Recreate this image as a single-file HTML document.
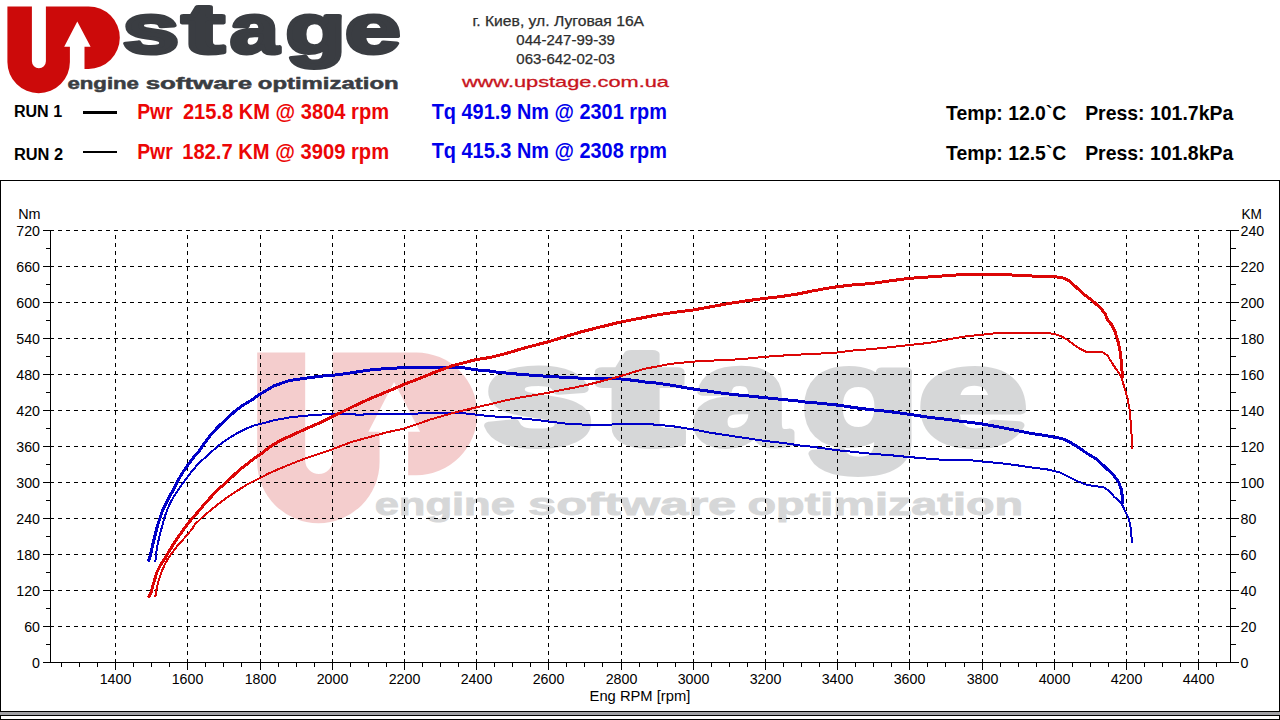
<!DOCTYPE html>
<html lang="ru"><head><meta charset="utf-8"><title>UPstage dyno chart</title>
<style>
html,body{margin:0;padding:0;background:#fff;}
body{width:1280px;height:720px;overflow:hidden;}
svg{display:block;}
text{font-family:"Liberation Sans",sans-serif;}
.lg{font-weight:bold;}
.b{font-weight:bold;}
.ax{font-size:15.3px;fill:#000;}
</style></head><body>
<svg width="1280" height="720" viewBox="0 0 1280 720">
<rect x="0" y="0" width="1280" height="720" fill="#fff"/>
<g id="logo">
<path fill="#cc0a0a" d="M7.4,6.4 H31.9 V61.3 A7,7 0 0 0 45.9,61.3 V6.4 H88.55 A31.25,31.25 0 0 1 88.55,68.9 H84.5 V46.7 H90.6 L77.3,21.5 L64.2,46.7 H69.9 V62 A31.25,31.25 0 0 1 7.4,62 Z"/>
<text class="lg" y="52.9" font-size="69.8" fill="#3a3d42" stroke="#3a3d42" stroke-width="4" stroke-linejoin="round"><tspan x="122.60" textLength="56.66" lengthAdjust="spacingAndGlyphs">s</tspan><tspan x="182.00" textLength="42.33" lengthAdjust="spacingAndGlyphs">t</tspan><tspan x="230.00" textLength="48.77" lengthAdjust="spacingAndGlyphs">a</tspan><tspan x="285.50" textLength="60.13" lengthAdjust="spacingAndGlyphs">g</tspan><tspan x="345.00" textLength="55.62" lengthAdjust="spacingAndGlyphs">e</tspan></text>
<text class="lg" y="89.2" font-size="16.4" fill="#3a3d42" stroke="#3a3d42" stroke-width="0.5"><tspan x="67.4" textLength="71.6" lengthAdjust="spacingAndGlyphs">engine</tspan> <tspan x="145.7" textLength="106.4" lengthAdjust="spacingAndGlyphs">software</tspan> <tspan x="257.8" textLength="140.8" lengthAdjust="spacingAndGlyphs">optimization</tspan></text>
</g>
<g font-size="14.2" fill="#2e2e2e" stroke="#2e2e2e" stroke-width="0.25">
<text x="472.4" y="26.4" textLength="171.7" lengthAdjust="spacingAndGlyphs">г. Киев, ул. Луговая 16А</text>
<text x="516.35" y="45" textLength="98.5" lengthAdjust="spacingAndGlyphs">044-247-99-39</text>
<text x="516.35" y="64.2" textLength="98.5" lengthAdjust="spacingAndGlyphs">063-642-02-03</text>
</g>
<text x="461.9" y="86.6" font-size="15" fill="#c8141c" stroke="#c8141c" stroke-width="0.3" textLength="207.1" lengthAdjust="spacingAndGlyphs">www.upstage.com.ua</text>
<g class="b" font-size="16" fill="#000">
<text x="13.9" y="117" textLength="48.2" lengthAdjust="spacingAndGlyphs">RUN 1</text>
<text x="13.9" y="159.6" textLength="49.2" lengthAdjust="spacingAndGlyphs">RUN 2</text>
</g>
<rect x="83" y="111" width="34" height="3" fill="#000"/>
<rect x="83" y="151" width="34" height="2" fill="#000"/>
<g class="b" font-size="21.6" fill="#ec0606">
<text y="118.6" xml:space="preserve"><tspan x="137.2" textLength="35.55" lengthAdjust="spacingAndGlyphs">Pwr</tspan>  <tspan x="182.9" textLength="206.2" lengthAdjust="spacingAndGlyphs">215.8 KM @ 3804 rpm</tspan></text>
<text y="158.5" xml:space="preserve"><tspan x="137.2" textLength="35.55" lengthAdjust="spacingAndGlyphs">Pwr</tspan>  <tspan x="182.2" textLength="206.9" lengthAdjust="spacingAndGlyphs">182.7 KM @ 3909 rpm</tspan></text>
</g>
<g class="b" font-size="21.6" fill="#0000ec">
<text x="431.7" y="118.6" textLength="235.2" lengthAdjust="spacingAndGlyphs">Tq 491.9 Nm @ 2301 rpm</text>
<text x="431.7" y="158.4" textLength="235.2" lengthAdjust="spacingAndGlyphs">Tq 415.3 Nm @ 2308 rpm</text>
</g>
<g class="b" font-size="20.2" fill="#000">
<text y="119.5" xml:space="preserve"><tspan x="946.05" textLength="120.3" lengthAdjust="spacingAndGlyphs">Temp: 12.0`C</tspan>   <tspan x="1085.15" textLength="148.1" lengthAdjust="spacingAndGlyphs">Press: 101.7kPa</tspan></text>
<text y="159.5" xml:space="preserve"><tspan x="946.05" textLength="120.3" lengthAdjust="spacingAndGlyphs">Temp: 12.5`C</tspan>   <tspan x="1085.15" textLength="148.1" lengthAdjust="spacingAndGlyphs">Press: 101.8kPa</tspan></text>
</g>
<rect x="0.5" y="180.5" width="1279" height="531" fill="#fff" stroke="#000" stroke-width="1"/>
<g opacity="0.2" transform="translate(242.71,339.82) scale(1.958,1.966)">
<g id="wm">
<path fill="#cc0a0a" d="M7.4,6.4 H31.9 V61.3 A7,7 0 0 0 45.9,61.3 V6.4 H88.55 A31.25,31.25 0 0 1 88.55,68.9 H84.5 V46.7 H90.6 L77.3,21.5 L64.2,46.7 H69.9 V62 A31.25,31.25 0 0 1 7.4,62 Z"/>
<text class="lg" y="52.9" font-size="69.8" fill="#3a3d42" stroke="#3a3d42" stroke-width="4" stroke-linejoin="round"><tspan x="122.60" textLength="56.66" lengthAdjust="spacingAndGlyphs">s</tspan><tspan x="182.00" textLength="42.33" lengthAdjust="spacingAndGlyphs">t</tspan><tspan x="230.00" textLength="48.77" lengthAdjust="spacingAndGlyphs">a</tspan><tspan x="285.50" textLength="60.13" lengthAdjust="spacingAndGlyphs">g</tspan><tspan x="345.00" textLength="55.62" lengthAdjust="spacingAndGlyphs">e</tspan></text>
<text class="lg" y="89.2" font-size="16.4" fill="#3a3d42" stroke="#3a3d42" stroke-width="0.5"><tspan x="67.4" textLength="71.6" lengthAdjust="spacingAndGlyphs">engine</tspan> <tspan x="145.7" textLength="106.4" lengthAdjust="spacingAndGlyphs">software</tspan> <tspan x="257.8" textLength="140.8" lengthAdjust="spacingAndGlyphs">optimization</tspan></text>
</g>
</g>
<g stroke="#000" stroke-width="1" shape-rendering="crispEdges" fill="none">
<g stroke-dasharray="4 4">
<line x1="50" y1="230.5" x2="1230" y2="230.5"/>
<line x1="50" y1="266.5" x2="1230" y2="266.5"/>
<line x1="50" y1="302.5" x2="1230" y2="302.5"/>
<line x1="50" y1="338.5" x2="1230" y2="338.5"/>
<line x1="50" y1="374.5" x2="1230" y2="374.5"/>
<line x1="50" y1="410.5" x2="1230" y2="410.5"/>
<line x1="50" y1="446.5" x2="1230" y2="446.5"/>
<line x1="50" y1="482.5" x2="1230" y2="482.5"/>
<line x1="50" y1="518.5" x2="1230" y2="518.5"/>
<line x1="50" y1="554.5" x2="1230" y2="554.5"/>
<line x1="50" y1="590.5" x2="1230" y2="590.5"/>
<line x1="50" y1="626.5" x2="1230" y2="626.5"/>
</g><g stroke-dasharray="4 4" stroke-dashoffset="3">
<line x1="115.5" y1="230" x2="115.5" y2="662"/>
<line x1="187.5" y1="230" x2="187.5" y2="662"/>
<line x1="260.5" y1="230" x2="260.5" y2="662"/>
<line x1="332.5" y1="230" x2="332.5" y2="662"/>
<line x1="404.5" y1="230" x2="404.5" y2="662"/>
<line x1="476.5" y1="230" x2="476.5" y2="662"/>
<line x1="548.5" y1="230" x2="548.5" y2="662"/>
<line x1="621.5" y1="230" x2="621.5" y2="662"/>
<line x1="693.5" y1="230" x2="693.5" y2="662"/>
<line x1="765.5" y1="230" x2="765.5" y2="662"/>
<line x1="837.5" y1="230" x2="837.5" y2="662"/>
<line x1="909.5" y1="230" x2="909.5" y2="662"/>
<line x1="982.5" y1="230" x2="982.5" y2="662"/>
<line x1="1054.5" y1="230" x2="1054.5" y2="662"/>
<line x1="1126.5" y1="230" x2="1126.5" y2="662"/>
<line x1="1198.5" y1="230" x2="1198.5" y2="662"/>
</g>
<line x1="50.5" y1="230" x2="50.5" y2="663"/>
<line x1="1230.5" y1="230" x2="1230.5" y2="663"/>
<line x1="43" y1="662.5" x2="1239" y2="662.5"/>
<line x1="43" y1="230.5" x2="51" y2="230.5"/>
<line x1="1230" y1="230.5" x2="1239" y2="230.5"/>
<line x1="46" y1="248.5" x2="51" y2="248.5"/>
<line x1="1230" y1="248.5" x2="1236" y2="248.5"/>
<line x1="43" y1="266.5" x2="51" y2="266.5"/>
<line x1="1230" y1="266.5" x2="1239" y2="266.5"/>
<line x1="46" y1="284.5" x2="51" y2="284.5"/>
<line x1="1230" y1="284.5" x2="1236" y2="284.5"/>
<line x1="43" y1="302.5" x2="51" y2="302.5"/>
<line x1="1230" y1="302.5" x2="1239" y2="302.5"/>
<line x1="46" y1="320.5" x2="51" y2="320.5"/>
<line x1="1230" y1="320.5" x2="1236" y2="320.5"/>
<line x1="43" y1="338.5" x2="51" y2="338.5"/>
<line x1="1230" y1="338.5" x2="1239" y2="338.5"/>
<line x1="46" y1="356.5" x2="51" y2="356.5"/>
<line x1="1230" y1="356.5" x2="1236" y2="356.5"/>
<line x1="43" y1="374.5" x2="51" y2="374.5"/>
<line x1="1230" y1="374.5" x2="1239" y2="374.5"/>
<line x1="46" y1="392.5" x2="51" y2="392.5"/>
<line x1="1230" y1="392.5" x2="1236" y2="392.5"/>
<line x1="43" y1="410.5" x2="51" y2="410.5"/>
<line x1="1230" y1="410.5" x2="1239" y2="410.5"/>
<line x1="46" y1="428.5" x2="51" y2="428.5"/>
<line x1="1230" y1="428.5" x2="1236" y2="428.5"/>
<line x1="43" y1="446.5" x2="51" y2="446.5"/>
<line x1="1230" y1="446.5" x2="1239" y2="446.5"/>
<line x1="46" y1="464.5" x2="51" y2="464.5"/>
<line x1="1230" y1="464.5" x2="1236" y2="464.5"/>
<line x1="43" y1="482.5" x2="51" y2="482.5"/>
<line x1="1230" y1="482.5" x2="1239" y2="482.5"/>
<line x1="46" y1="500.5" x2="51" y2="500.5"/>
<line x1="1230" y1="500.5" x2="1236" y2="500.5"/>
<line x1="43" y1="518.5" x2="51" y2="518.5"/>
<line x1="1230" y1="518.5" x2="1239" y2="518.5"/>
<line x1="46" y1="536.5" x2="51" y2="536.5"/>
<line x1="1230" y1="536.5" x2="1236" y2="536.5"/>
<line x1="43" y1="554.5" x2="51" y2="554.5"/>
<line x1="1230" y1="554.5" x2="1239" y2="554.5"/>
<line x1="46" y1="572.5" x2="51" y2="572.5"/>
<line x1="1230" y1="572.5" x2="1236" y2="572.5"/>
<line x1="43" y1="590.5" x2="51" y2="590.5"/>
<line x1="1230" y1="590.5" x2="1239" y2="590.5"/>
<line x1="46" y1="608.5" x2="51" y2="608.5"/>
<line x1="1230" y1="608.5" x2="1236" y2="608.5"/>
<line x1="43" y1="626.5" x2="51" y2="626.5"/>
<line x1="1230" y1="626.5" x2="1239" y2="626.5"/>
<line x1="46" y1="644.5" x2="51" y2="644.5"/>
<line x1="1230" y1="644.5" x2="1236" y2="644.5"/>
<line x1="43" y1="662.5" x2="51" y2="662.5"/>
<line x1="1230" y1="662.5" x2="1239" y2="662.5"/>
<line x1="61.5" y1="662" x2="61.5" y2="667"/>
<line x1="79.5" y1="662" x2="79.5" y2="667"/>
<line x1="97.5" y1="662" x2="97.5" y2="667"/>
<line x1="115.5" y1="662" x2="115.5" y2="670"/>
<line x1="133.5" y1="662" x2="133.5" y2="667"/>
<line x1="151.5" y1="662" x2="151.5" y2="667"/>
<line x1="169.5" y1="662" x2="169.5" y2="667"/>
<line x1="187.5" y1="662" x2="187.5" y2="670"/>
<line x1="205.5" y1="662" x2="205.5" y2="667"/>
<line x1="223.5" y1="662" x2="223.5" y2="667"/>
<line x1="241.5" y1="662" x2="241.5" y2="667"/>
<line x1="260.5" y1="662" x2="260.5" y2="670"/>
<line x1="278.5" y1="662" x2="278.5" y2="667"/>
<line x1="296.5" y1="662" x2="296.5" y2="667"/>
<line x1="314.5" y1="662" x2="314.5" y2="667"/>
<line x1="332.5" y1="662" x2="332.5" y2="670"/>
<line x1="350.5" y1="662" x2="350.5" y2="667"/>
<line x1="368.5" y1="662" x2="368.5" y2="667"/>
<line x1="386.5" y1="662" x2="386.5" y2="667"/>
<line x1="404.5" y1="662" x2="404.5" y2="670"/>
<line x1="422.5" y1="662" x2="422.5" y2="667"/>
<line x1="440.5" y1="662" x2="440.5" y2="667"/>
<line x1="458.5" y1="662" x2="458.5" y2="667"/>
<line x1="476.5" y1="662" x2="476.5" y2="670"/>
<line x1="494.5" y1="662" x2="494.5" y2="667"/>
<line x1="512.5" y1="662" x2="512.5" y2="667"/>
<line x1="530.5" y1="662" x2="530.5" y2="667"/>
<line x1="548.5" y1="662" x2="548.5" y2="670"/>
<line x1="566.5" y1="662" x2="566.5" y2="667"/>
<line x1="584.5" y1="662" x2="584.5" y2="667"/>
<line x1="602.5" y1="662" x2="602.5" y2="667"/>
<line x1="621.5" y1="662" x2="621.5" y2="670"/>
<line x1="639.5" y1="662" x2="639.5" y2="667"/>
<line x1="657.5" y1="662" x2="657.5" y2="667"/>
<line x1="675.5" y1="662" x2="675.5" y2="667"/>
<line x1="693.5" y1="662" x2="693.5" y2="670"/>
<line x1="711.5" y1="662" x2="711.5" y2="667"/>
<line x1="729.5" y1="662" x2="729.5" y2="667"/>
<line x1="747.5" y1="662" x2="747.5" y2="667"/>
<line x1="765.5" y1="662" x2="765.5" y2="670"/>
<line x1="783.5" y1="662" x2="783.5" y2="667"/>
<line x1="801.5" y1="662" x2="801.5" y2="667"/>
<line x1="819.5" y1="662" x2="819.5" y2="667"/>
<line x1="837.5" y1="662" x2="837.5" y2="670"/>
<line x1="855.5" y1="662" x2="855.5" y2="667"/>
<line x1="873.5" y1="662" x2="873.5" y2="667"/>
<line x1="891.5" y1="662" x2="891.5" y2="667"/>
<line x1="909.5" y1="662" x2="909.5" y2="670"/>
<line x1="927.5" y1="662" x2="927.5" y2="667"/>
<line x1="945.5" y1="662" x2="945.5" y2="667"/>
<line x1="964.5" y1="662" x2="964.5" y2="667"/>
<line x1="982.5" y1="662" x2="982.5" y2="670"/>
<line x1="1000.5" y1="662" x2="1000.5" y2="667"/>
<line x1="1018.5" y1="662" x2="1018.5" y2="667"/>
<line x1="1036.5" y1="662" x2="1036.5" y2="667"/>
<line x1="1054.5" y1="662" x2="1054.5" y2="670"/>
<line x1="1072.5" y1="662" x2="1072.5" y2="667"/>
<line x1="1090.5" y1="662" x2="1090.5" y2="667"/>
<line x1="1108.5" y1="662" x2="1108.5" y2="667"/>
<line x1="1126.5" y1="662" x2="1126.5" y2="670"/>
<line x1="1144.5" y1="662" x2="1144.5" y2="667"/>
<line x1="1162.5" y1="662" x2="1162.5" y2="667"/>
<line x1="1180.5" y1="662" x2="1180.5" y2="667"/>
<line x1="1198.5" y1="662" x2="1198.5" y2="670"/>
<line x1="1216.5" y1="662" x2="1216.5" y2="667"/>
</g>
<g class="ax">
<text x="16.27" y="235.6" textLength="23.73" lengthAdjust="spacingAndGlyphs">720</text>
<text x="1240.5" y="235.6" textLength="23.73" lengthAdjust="spacingAndGlyphs">240</text>
<text x="16.27" y="271.6" textLength="23.73" lengthAdjust="spacingAndGlyphs">660</text>
<text x="1240.5" y="271.6" textLength="23.73" lengthAdjust="spacingAndGlyphs">220</text>
<text x="16.27" y="307.6" textLength="23.73" lengthAdjust="spacingAndGlyphs">600</text>
<text x="1240.5" y="307.6" textLength="23.73" lengthAdjust="spacingAndGlyphs">200</text>
<text x="16.27" y="343.6" textLength="23.73" lengthAdjust="spacingAndGlyphs">540</text>
<text x="1240.5" y="343.6" textLength="23.73" lengthAdjust="spacingAndGlyphs">180</text>
<text x="16.27" y="379.6" textLength="23.73" lengthAdjust="spacingAndGlyphs">480</text>
<text x="1240.5" y="379.6" textLength="23.73" lengthAdjust="spacingAndGlyphs">160</text>
<text x="16.27" y="415.6" textLength="23.73" lengthAdjust="spacingAndGlyphs">420</text>
<text x="1240.5" y="415.6" textLength="23.73" lengthAdjust="spacingAndGlyphs">140</text>
<text x="16.27" y="451.6" textLength="23.73" lengthAdjust="spacingAndGlyphs">360</text>
<text x="1240.5" y="451.6" textLength="23.73" lengthAdjust="spacingAndGlyphs">120</text>
<text x="16.27" y="487.6" textLength="23.73" lengthAdjust="spacingAndGlyphs">300</text>
<text x="1240.5" y="487.6" textLength="23.73" lengthAdjust="spacingAndGlyphs">100</text>
<text x="16.27" y="523.6" textLength="23.73" lengthAdjust="spacingAndGlyphs">240</text>
<text x="1240.5" y="523.6" textLength="15.82" lengthAdjust="spacingAndGlyphs">80</text>
<text x="16.27" y="559.6" textLength="23.73" lengthAdjust="spacingAndGlyphs">180</text>
<text x="1240.5" y="559.6" textLength="15.82" lengthAdjust="spacingAndGlyphs">60</text>
<text x="16.27" y="595.6" textLength="23.73" lengthAdjust="spacingAndGlyphs">120</text>
<text x="1240.5" y="595.6" textLength="15.82" lengthAdjust="spacingAndGlyphs">40</text>
<text x="24.18" y="631.6" textLength="15.82" lengthAdjust="spacingAndGlyphs">60</text>
<text x="1240.5" y="631.6" textLength="15.82" lengthAdjust="spacingAndGlyphs">20</text>
<text x="32.09" y="667.6" textLength="7.91" lengthAdjust="spacingAndGlyphs">0</text>
<text x="1240.5" y="667.6" textLength="7.91" lengthAdjust="spacingAndGlyphs">0</text>
<text x="99.68" y="684" textLength="31.64" lengthAdjust="spacingAndGlyphs">1400</text>
<text x="171.68" y="684" textLength="31.64" lengthAdjust="spacingAndGlyphs">1600</text>
<text x="244.68" y="684" textLength="31.64" lengthAdjust="spacingAndGlyphs">1800</text>
<text x="316.68" y="684" textLength="31.64" lengthAdjust="spacingAndGlyphs">2000</text>
<text x="388.68" y="684" textLength="31.64" lengthAdjust="spacingAndGlyphs">2200</text>
<text x="460.68" y="684" textLength="31.64" lengthAdjust="spacingAndGlyphs">2400</text>
<text x="532.68" y="684" textLength="31.64" lengthAdjust="spacingAndGlyphs">2600</text>
<text x="605.68" y="684" textLength="31.64" lengthAdjust="spacingAndGlyphs">2800</text>
<text x="677.68" y="684" textLength="31.64" lengthAdjust="spacingAndGlyphs">3000</text>
<text x="749.68" y="684" textLength="31.64" lengthAdjust="spacingAndGlyphs">3200</text>
<text x="821.68" y="684" textLength="31.64" lengthAdjust="spacingAndGlyphs">3400</text>
<text x="893.68" y="684" textLength="31.64" lengthAdjust="spacingAndGlyphs">3600</text>
<text x="966.68" y="684" textLength="31.64" lengthAdjust="spacingAndGlyphs">3800</text>
<text x="1038.68" y="684" textLength="31.64" lengthAdjust="spacingAndGlyphs">4000</text>
<text x="1110.68" y="684" textLength="31.64" lengthAdjust="spacingAndGlyphs">4200</text>
<text x="1182.68" y="684" textLength="31.64" lengthAdjust="spacingAndGlyphs">4400</text>
<text x="18.2" y="218.9" textLength="22.4" lengthAdjust="spacingAndGlyphs">Nm</text>
<text x="1241.4" y="218.9" textLength="20.4" lengthAdjust="spacingAndGlyphs">KM</text>
<text x="589.55" y="700.8" textLength="100.8" lengthAdjust="spacingAndGlyphs">Eng RPM [rpm]</text>
</g>
<g fill="none" stroke-linejoin="round" stroke-linecap="butt" shape-rendering="crispEdges">
<polyline stroke="#0000c8" stroke-width="3" points="147.4,559.6 149.0,560.4 151.1,552.2 152.6,544.9 153.3,542.2 155.6,533.3 157.8,524.4 160.0,517.8 162.8,510.0 166.7,502.2 170.3,494.6 173.3,490.2 176.9,482.5 181.7,473.9 187.5,465.4 192.2,459.4 195.2,455.3 200.0,450.0 202.2,446.1 211.1,434.4 218.9,426.1 227.8,417.8 235.6,410.6 243.3,405.0 251.1,400.4 259.8,394.3 274.0,385.8 289.3,380.6 304.6,378.3 319.9,376.3 332.9,375.2 340.0,374.4 355.3,372.2 370.6,369.9 385.8,368.6 404.2,367.6 424.0,367.3 439.3,367.3 454.6,367.3 465.3,368.0 476.4,369.9 486.7,370.6 500.0,372.6 505.3,372.9 520.6,374.4 548.5,376.4 566.4,377.4 581.7,378.2 597.0,378.2 612.2,378.5 620.8,379.0 635.2,380.5 650.0,382.8 655.3,382.9 670.6,385.1 693.0,389.0 708.8,391.2 724.0,393.5 739.3,395.1 754.6,396.6 765.1,397.7 785.1,399.7 800.0,401.2 805.3,402.1 820.6,403.3 837.4,405.1 858.8,408.2 874.0,410.0 889.3,411.6 909.6,414.3 927.5,417.1 950.0,419.7 955.3,420.6 970.6,422.4 981.9,423.9 1001.1,427.4 1016.4,430.5 1031.7,433.5 1047.0,435.8 1054.0,437.1 1062.2,438.6 1069.0,441.7 1078.0,447.1 1087.1,453.5 1096.1,458.9 1105.1,467.0 1114.2,476.0 1118.7,482.3 1121.4,489.6 1122.3,496.8 1122.8,504.0"/>
<polyline stroke="#0000c8" stroke-width="2" points="155.3,562.0 156.1,553.5 157.6,544.5 159.4,536.7 161.7,527.8 163.9,519.4 166.7,511.1 170.0,503.3 174.4,495.6 178.3,490.0 183.3,482.5 187.5,477.2 192.8,470.0 195.0,467.8 198.3,463.3 203.9,458.7 211.1,452.2 218.3,445.6 227.8,438.9 237.8,432.8 246.7,428.3 255.6,425.0 259.8,424.1 274.0,420.3 289.3,417.5 304.6,415.7 319.9,414.8 325.0,414.0 355.0,414.0 356.5,415.0 362.5,415.0 364.0,414.0 417.0,414.0 419.0,413.0 465.0,413.0 467.0,414.0 476.4,414.6 486.7,415.8 500.0,416.9 505.3,416.9 520.6,418.4 535.8,419.9 548.5,421.4 558.8,422.8 569.5,424.0 581.7,424.5 597.0,424.5 612.2,424.5 627.5,424.0 650.0,423.7 655.3,424.9 670.6,425.9 693.0,429.4 708.8,432.5 724.0,434.8 739.3,437.1 754.6,439.4 765.1,440.9 785.1,443.2 800.0,445.5 805.3,445.9 820.6,447.9 837.4,450.2 858.8,452.5 874.0,454.0 889.3,455.1 909.6,457.1 927.5,458.6 950.0,460.4 955.3,460.0 970.6,460.3 981.9,461.5 1001.1,463.3 1016.4,465.2 1031.7,467.5 1047.0,469.4 1054.0,471.0 1060.0,472.4 1069.0,476.9 1078.0,481.4 1087.1,485.0 1096.1,486.3 1103.3,487.2 1108.7,490.5 1114.2,496.8 1119.6,501.3 1123.2,506.7 1125.9,513.0 1128.6,518.4 1130.4,525.7 1131.3,534.7 1132.2,542.8"/>
<polyline stroke="#dc0606" stroke-width="3" points="148.5,597.6 151.2,592.5 152.6,586.7 154.6,579.9 157.0,572.1 160.4,565.3 164.1,559.8 168.3,552.4 173.2,544.6 178.9,536.1 184.4,528.3 188.9,522.2 195.0,515.4 203.3,505.6 212.2,495.6 220.6,487.2 226.7,482.2 232.8,476.1 239.4,470.0 247.2,463.9 255.0,457.8 261.7,453.3 271.1,446.1 280.0,440.6 290.0,436.1 301.1,431.0 312.2,426.0 320.0,422.7 332.0,416.7 340.0,413.0 351.3,407.3 369.3,399.0 387.4,391.5 404.2,384.3 419.9,378.3 431.7,373.4 451.5,366.0 476.4,359.5 490.0,357.5 506.7,353.3 523.3,348.3 548.5,341.7 565.0,336.7 581.7,331.7 598.3,327.5 611.7,324.2 620.8,322.0 640.0,318.3 656.7,315.0 673.3,312.5 693.0,310.0 713.3,306.3 730.0,303.3 746.7,300.8 765.2,298.3 780.0,296.7 796.7,294.2 813.3,290.8 825.0,288.7 837.3,286.7 855.0,284.7 870.0,283.7 886.7,281.3 909.5,278.3 928.3,277.0 945.0,275.8 963.3,274.5 981.8,274.5 1003.3,274.5 1020.0,275.5 1036.7,276.2 1054.0,276.4 1056.7,276.9 1063.6,278.1 1069.2,280.8 1076.1,287.1 1084.4,294.7 1092.8,301.0 1101.1,308.6 1105.3,314.2 1107.4,319.7 1111.5,324.6 1115.0,331.5 1117.8,340.6 1119.9,350.3 1121.2,360.0 1122.2,373.3 1122.5,378.3"/>
<polyline stroke="#dc0606" stroke-width="2" points="155.3,597.0 156.1,591.6 157.5,584.7 159.5,577.9 161.9,571.1 164.8,564.3 168.2,558.5 171.9,553.0 176.8,546.5 182.2,540.6 187.5,534.4 192.2,528.9 195.0,524.4 201.7,517.8 208.3,512.2 215.0,506.7 222.8,500.6 230.6,495.0 239.4,489.4 247.2,484.4 255.0,480.4 261.7,477.2 267.8,473.9 278.9,468.9 290.0,464.4 301.1,460.0 312.2,456.1 320.0,453.6 332.0,449.4 351.3,442.0 369.3,437.1 387.4,432.2 404.2,428.5 419.9,423.2 430.0,419.6 451.5,413.4 476.4,407.3 490.0,404.2 504.1,400.7 518.1,397.9 532.2,395.5 548.5,392.7 560.3,390.2 574.4,387.6 588.5,384.5 602.5,381.0 616.6,377.2 621.5,375.8 630.6,373.0 644.7,368.8 655.3,366.8 670.6,363.8 693.0,361.6 716.4,360.4 739.3,359.3 752.0,358.1 765.1,356.8 785.1,355.4 800.0,354.6 813.3,353.7 830.0,353.3 837.3,352.5 855.0,350.3 870.0,349.2 886.7,347.5 909.5,345.0 928.3,343.0 945.0,340.0 963.3,336.7 981.8,334.7 995.0,333.3 1008.3,332.5 1028.3,332.5 1045.0,332.5 1053.9,333.9 1060.8,336.1 1067.8,339.9 1074.7,345.4 1080.3,348.9 1085.8,351.7 1101.7,351.7 1107.5,355.5 1113.3,365.0 1120.8,375.8 1124.2,386.7 1127.5,398.3 1129.7,410.0 1130.8,423.3 1131.7,436.7 1132.2,449.2"/>
</g>
<rect x="0" y="712" width="1280" height="3" fill="#a0a0a4"/>
<rect x="0" y="715" width="1280" height="1" fill="#000"/>
<rect x="0" y="716" width="1" height="4" fill="#000"/>
<rect x="1279" y="716" width="1" height="4" fill="#000"/>
<rect x="0" y="719" width="1280" height="1" fill="#000"/>
</svg></body></html>
